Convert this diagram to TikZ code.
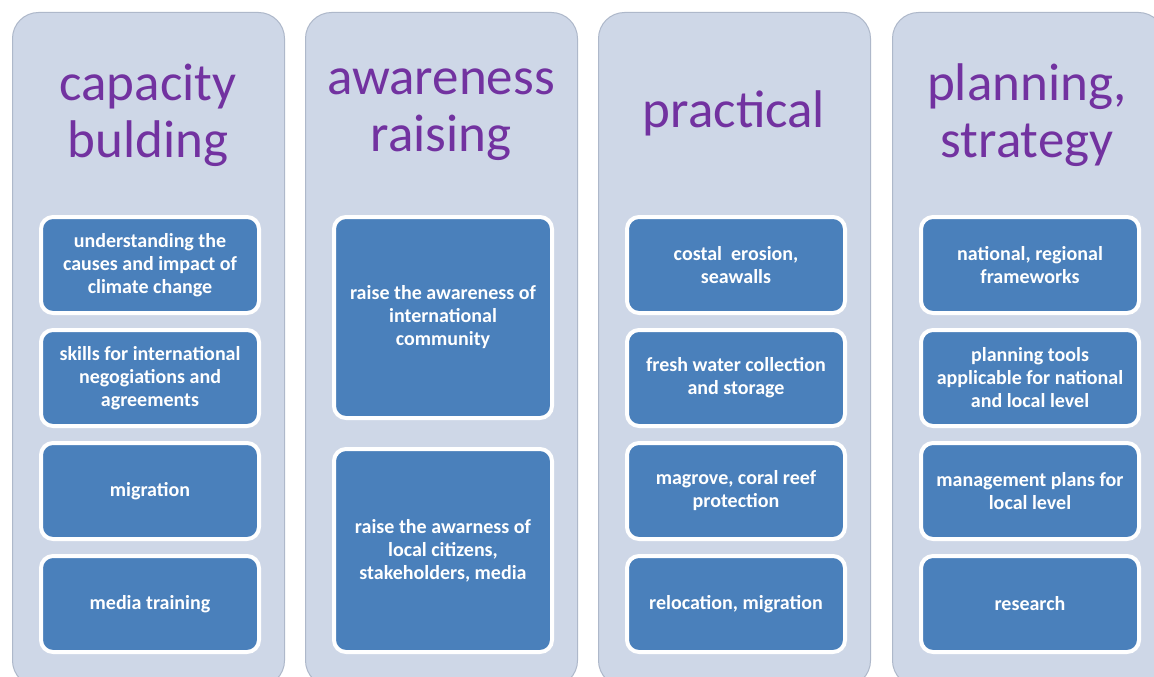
\documentclass[tikz,border=0pt]{standalone}
\usepackage{fontspec}
\setmainfont{Carlito}
\definecolor{panelfill}{HTML}{CED7E7}
\definecolor{paneledge}{HTML}{AEB8CA}
\definecolor{itemfill}{HTML}{4A80BB}
\definecolor{titlecol}{HTML}{7232A0}
\tikzset{
  panel/.style={rectangle, rounded corners=26bp, fill=panelfill, draw=paneledge,
    line width=1bp, minimum width=272bp, minimum height=674bp, anchor=north west, inner sep=0pt},
  paneltitle/.style={text=titlecol, align=center, font=\fontsize{53bp}{57bp}\selectfont, inner sep=0pt},
  itembox/.style={rectangle, rounded corners=12bp, fill=itemfill, draw=white, line width=4bp,
    minimum width=218bp, anchor=north west, inner sep=2bp, text=white, align=center,
    font=\bfseries\fontsize{20bp}{23bp}\selectfont},
  smallitem/.style={itembox, minimum height=96bp},
  tallitem/.style={itembox, minimum height=201bp},
}
\begin{document}
\begin{tikzpicture}[x=1bp,y=-1bp]
\useasboundingbox (0,0) rectangle (1154,677);
\clip (0,0) rectangle (1154,677);
\fill[white] (0,0) rectangle (1154,677);

% panels
\node[panel] (p1) at (12,12) {};
\node[panel] (p2) at (305,12) {};
\node[panel] (p3) at (598,12) {};
\node[panel] (p4) at (892,12) {};

% panel titles
\node[paneltitle] (t1) at (148,115) {capacity\\bulding};
\node[paneltitle] (t2) at (441,115) {awareness\\raising};
\node[paneltitle] (t3) at (734,113) {practical};
\node[paneltitle] (t4) at (1027,115) {planning,\\strategy};

% capacity building
\node[smallitem] (a1) at (39,215) {understanding the\\causes and impact of\\climate change};
\node[smallitem] (a2) at (39,328) {skills for international\\negogiations and\\agreements};
\node[smallitem] (a3) at (39,441) {migration};
\node[smallitem] (a4) at (39,554) {media training};

% awareness raising
\node[tallitem] (b1) at (332,215) {raise the awareness of\\international\\community};
\node[tallitem, minimum height=203bp] (b2) at (332,447) {raise the awarness of\\local citizens,\\stakeholders, media};

% practical
\node[smallitem] (c1) at (625,215) {costal\ \ erosion,\\seawalls};
\node[smallitem] (c2) at (625,328) {fresh water collection\\and storage};
\node[smallitem] (c3) at (625,441) {magrove, coral reef\\protection};
\node[smallitem] (c4) at (625,554) {relocation, migration};

% planning, strategy
\node[smallitem] (d1) at (919,215) {national, regional\\frameworks};
\node[smallitem] (d2) at (919,328) {planning tools\\applicable for national\\and local level};
\node[smallitem] (d3) at (919,441) {management plans for\\local level};
\node[smallitem] (d4) at (919,554) {research};
\end{tikzpicture}
\end{document}
